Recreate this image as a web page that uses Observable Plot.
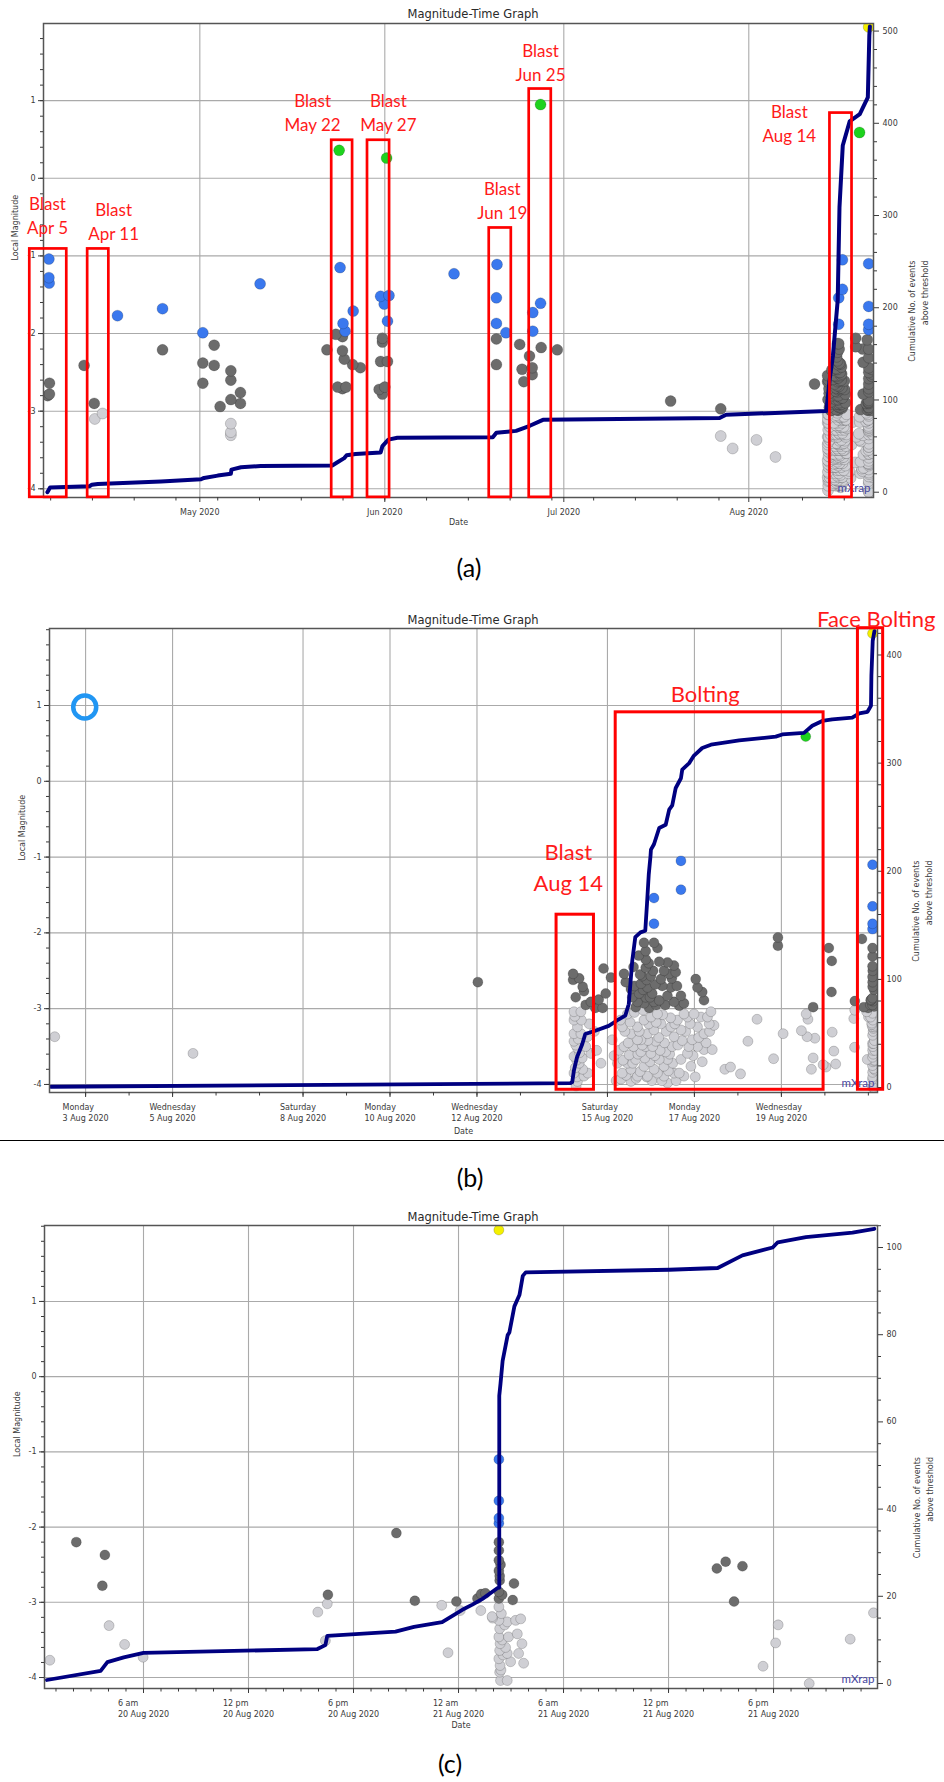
<!DOCTYPE html>
<html><head><meta charset="utf-8">
<script src="https://cdn.jsdelivr.net/npm/d3@7"></script>
<script src="https://cdn.jsdelivr.net/npm/@observablehq/plot@0.6"></script>
<style>
html,body{margin:0;padding:0;background:#fff;overflow:hidden}
#page{position:relative;width:944px;height:1782px;overflow:hidden;background:#fff}
#page svg{position:absolute;left:0}
.ttl{position:absolute;font:11.5px "DejaVu Sans";color:#2a2a2a;transform:translate(-50%,-50%);white-space:nowrap}
.cap{position:absolute;font:25px Lato;color:#000;transform:translate(-50%,-50%)}
.sep{position:absolute;left:0;width:944px;height:1.5px;background:#000}
</style></head>
<body><div id="page"></div>
<script>
// ---------- DATA ----------
// events: [month, day of month (fractional), local magnitude]
const eventsAprJul = [
  [4,5.7,-1.04],[4,5.7,-1.28],[4,5.75,-1.35],[4,5.8,-2.64],[4,5.8,-2.78],[4,5.5,-2.80],
  [4,11.6,-2.41],[4,13.3,-2.90],[4,13.4,-3.10],[4,14.7,-3.03],[4,17.2,-1.77],
  [4,24.75,-1.68],[4,24.75,-2.21],
  [5,1.5,-1.99],[5,1.5,-2.38],[5,1.5,-2.64],[5,3.4,-2.15],[5,3.4,-2.41],[5,4.4,-2.94],
  [5,6.2,-2.48],[5,6.2,-2.60],[5,6.2,-2.85],[5,7.8,-2.76],[5,7.8,-2.90],
  [5,6.2,-3.16],[5,6.2,-3.27],[5,6.2,-3.31],[5,11.1,-1.36],
  [5,22.3,-2.21],[5,23.8,-2.01],[5,24.1,-2.69],[5,24.35,0.36],[5,24.5,-1.15],[5,25.0,-1.87],
  [5,25.35,-1.97],[5,24.9,-2.04],[5,24.9,-2.22],[5,25.2,-2.33],[5,24.9,-2.71],[5,25.5,-2.69],
  [5,26.6,-2.40],[5,26.7,-1.71],[5,27.9,-2.44],
  [5,31.05,-2.72],[5,31.3,-1.52],[5,31.3,-2.36],[5,31.6,-2.06],[5,31.6,-2.11],[5,31.6,-2.78],[5,31.9,-1.62],
  [6,1.0,-2.69],[6,1.3,0.26],[6,1.45,-1.84],[6,1.45,-2.36],[6,1.7,-1.51],[6,12.6,-1.23],
  [6,19.7,-1.54],[6,19.7,-1.87],[6,19.7,-2.07],[6,19.7,-2.40],[6,19.8,-1.11],[6,21.3,-1.99],
  [6,23.6,-2.14],[6,24.0,-2.46],[6,24.3,-2.62],[6,25.25,-2.29],[6,25.7,-2.44],[6,25.7,-2.53],
  [6,25.8,-1.73],[6,25.8,-1.97],[6,27.1,0.95],[6,27.1,-1.61],[6,27.2,-2.18],[6,29.9,-2.21],
  [7,18.9,-2.87],[7,27.3,-2.97],[7,27.3,-3.32],[7,29.3,-3.48]
];
const eventsAug2to19 = [
  [8,2.29,-3.37],[8,5.47,-3.59],[8,12.02,-2.65],
  [8,14.21,-2.54],[8,14.21,-2.62],[8,14.43,-2.71],[8,14.46,-2.77],[8,14.27,-2.85],[8,14.62,-2.91],
  [8,14.72,-2.99],[8,14.89,-2.99],[8,14.91,-2.47],[8,15.08,-2.59],[8,14.96,-2.80],[8,15.38,-2.54],[8,15.42,-2.65],
  [8,14.35,-2.60],[8,14.50,-2.95],[8,14.80,-2.88],
  [8,15.84,-2.13],[8,16.07,-2.13],[8,15.88,-2.24],[8,15.88,-2.35],[8,15.88,-2.46],[8,15.80,-2.57],
  [8,16.00,-2.57],[8,15.77,-2.67],[8,15.92,-2.72],[8,15.73,-2.80],[8,15.88,-2.85],[8,16.03,-2.80],
  [8,15.69,-2.91],[8,15.84,-2.93],[8,16.07,-2.91],[8,15.65,-2.98],[8,15.96,-2.99],[8,16.38,-2.39],
  [8,16.53,-2.43],[8,16.57,-2.52],[8,16.42,-2.54],[8,16.23,-2.61],[8,16.26,-2.70],[8,16.46,-2.72],
  [8,16.38,-2.83],[8,16.69,-2.83],[8,16.53,-2.91],[8,16.76,-2.93],[8,16.19,-2.89],[8,15.54,-2.74],
  [8,15.57,-2.85],[8,17.03,-2.61],[8,17.07,-2.72],[8,17.18,-2.78],[8,17.22,-2.89],[8,16.19,-2.38],
  [8,15.60,-2.45],[8,15.62,-2.70],[8,15.72,-2.30],[8,15.75,-2.55],[8,15.82,-2.75],[8,15.90,-2.62],
  [8,15.95,-2.40],[8,15.98,-2.85],[8,16.05,-2.50],[8,16.10,-2.68],[8,16.12,-2.95],[8,16.15,-2.20],
  [8,16.30,-2.50],[8,16.33,-2.95],[8,16.48,-2.60],[8,16.60,-2.70],[8,16.65,-2.96],
  [8,16.07,-1.54],[8,16.07,-1.88],[8,16.69,-1.05],[8,16.69,-1.43],
  [8,14.23,-3.04],[8,14.39,-3.04],[8,14.23,-3.15],[8,14.31,-3.24],[8,14.23,-3.33],[8,14.39,-3.33],
  [8,14.23,-3.43],[8,14.31,-3.52],[8,14.23,-3.63],[8,14.35,-3.72],[8,14.43,-3.80],[8,14.23,-3.85],
  [8,14.54,-3.37],[8,14.58,-3.20],[8,14.62,-3.59],[8,14.85,-3.72],[8,14.31,-3.96],[8,14.46,-3.89],
  [8,14.25,-3.10],[8,14.27,-3.48],[8,14.29,-3.68],[8,14.26,-3.78],[8,14.30,-3.90],[8,14.33,-3.40],
  [8,14.36,-3.58],[8,14.28,-4.02],[8,14.40,-3.15],[8,14.42,-3.65],[8,14.50,-3.50],[8,14.55,-3.85],
  [8,14.70,-3.30],[8,14.75,-3.55],
  [8,15.11,-3.41],[8,15.34,-3.24],[8,15.46,-3.07],[8,15.54,-3.33],[8,15.38,-3.50],[8,15.50,-3.61],
  [8,15.46,-3.72],[8,15.54,-3.80],[8,15.34,-3.85],[8,15.65,-3.67],[8,15.77,-3.57],[8,15.88,-3.50],
  [8,15.77,-3.41],[8,15.92,-3.33],[8,15.69,-3.24],[8,15.84,-3.15],[8,16.00,-3.11],[8,16.15,-3.07],
  [8,16.23,-3.20],[8,16.07,-3.28],[8,16.11,-3.43],[8,16.00,-3.59],[8,15.84,-3.76],[8,15.69,-3.89],
  [8,15.54,-3.96],[8,16.07,-3.80],[8,16.30,-3.76],[8,16.38,-3.67],[8,16.34,-3.57],[8,16.49,-3.50],
  [8,16.53,-3.37],[8,16.69,-3.28],[8,16.46,-3.24],[8,16.61,-3.15],[8,16.84,-3.11],[8,16.76,-3.07],
  [8,16.99,-3.07],[8,17.15,-3.11],[8,17.30,-3.11],[8,17.38,-3.04],[8,17.07,-3.24],[8,17.22,-3.33],
  [8,17.34,-3.20],[8,16.95,-3.41],[8,17.07,-3.50],[8,16.84,-3.59],[8,16.69,-3.67],[8,16.92,-3.76],
  [8,17.22,-3.54],[8,17.41,-3.54],[8,16.53,-3.85],[8,16.30,-3.89],[8,16.76,-3.89],[8,16.38,-3.98],
  [8,15.23,-3.72],[8,15.69,-3.41],[8,15.31,-3.93],[8,15.92,-3.89],[8,16.19,-3.67],
  [8,15.15,-3.62],[8,15.20,-3.95],[8,15.27,-3.55],[8,15.30,-3.15],[8,15.36,-3.68],[8,15.40,-3.30],
  [8,15.43,-3.88],[8,15.48,-3.45],[8,15.52,-3.18],[8,15.58,-3.72],[8,15.60,-3.50],[8,15.62,-3.05],
  [8,15.66,-3.92],[8,15.70,-3.60],[8,15.73,-3.30],[8,15.75,-3.83],[8,15.80,-3.48],[8,15.82,-3.02],
  [8,15.86,-3.65],[8,15.90,-3.90],[8,15.93,-3.42],[8,15.95,-3.20],[8,15.98,-3.70],[8,16.02,-3.95],
  [8,16.04,-3.50],[8,16.09,-3.62],[8,16.12,-3.18],[8,16.15,-3.85],[8,16.18,-3.38],[8,16.21,-3.55],
  [8,16.25,-3.95],[8,16.27,-3.08],[8,16.31,-3.45],[8,16.35,-3.30],[8,16.40,-3.82],[8,16.43,-3.60],
  [8,16.45,-3.12],[8,16.50,-3.72],[8,16.55,-3.20],[8,16.58,-3.95],[8,16.62,-3.48],[8,16.65,-3.85],
  [8,16.72,-3.42],[8,16.80,-3.30],[8,16.87,-3.50],[8,16.90,-3.20],[8,16.97,-3.62],[8,17.02,-3.90],
  [8,17.10,-3.38],[8,17.18,-3.70],[8,17.27,-3.45],[8,17.35,-3.30],[8,17.45,-3.22],
  [8,17.70,-3.80],[8,17.83,-3.77],[8,18.06,-3.86],[8,18.23,-3.43],[8,18.44,-3.14],[8,18.82,-3.66],
  [8,19.04,-3.33],[8,19.46,-3.29],[8,19.57,-3.07],[8,19.59,-3.37],[8,19.61,-3.14],[8,19.69,-3.80],
  [8,19.73,-3.65],[8,19.77,-3.39],[8,19.96,-3.74],
  [8,18.92,-2.06],[8,18.92,-2.17],[8,19.73,-2.98],[8,19.56,0.59]
];
const eventsAug20to21 = [
  [8,20.027,-3.77],[8,20.090,-2.20],[8,20.158,-2.37],[8,20.152,-2.78],[8,20.168,-3.31],[8,20.205,-3.56],
  [8,20.249,-3.73],[8,20.665,-3.13],[8,20.6875,-3.02],[8,20.689,-2.90],[8,20.683,-3.51],
  [8,20.852,-2.08],[8,20.896,-2.98],[8,20.960,-3.04],[8,20.975,-3.67],[8,20.995,-2.99],[8,21.004,-3.11],
  [8,21.045,-2.95],[8,21.054,-2.89],[8,21.053,-3.11],[8,21.064,-2.88],[8,21.080,-3.19],[8,21.081,-3.21],
  [8,21.096,1.95],[8,21.096,-1.10],[8,21.096,-1.65],[8,21.096,-1.88],[8,21.096,-1.95],
  [8,21.096,-2.20],[8,21.096,-2.31],[8,21.096,-2.44],[8,21.096,-2.58],[8,21.098,-2.71],[8,21.096,-2.86],
  [8,21.096,-2.95],[8,21.132,-2.75],[8,21.129,-2.97],[8,21.100,-2.50],[8,21.098,-2.65],[8,21.104,-2.90],
  [8,21.096,-3.06],[8,21.096,-3.24],[8,21.098,-3.35],[8,21.096,-3.46],[8,21.099,-3.55],[8,21.098,-3.64],
  [8,21.096,-3.75],[8,21.099,-3.84],[8,21.098,-3.93],[8,21.100,-4.04],
  [8,21.102,-3.15],[8,21.104,-3.50],[8,21.106,-3.70],[8,21.101,-3.90],[8,21.110,-3.30],[8,21.112,-3.60],
  [8,21.116,-3.26],[8,21.136,-3.24],[8,21.148,-3.22],[8,21.140,-3.42],[8,21.151,-3.55],[8,21.119,-3.46],
  [8,21.116,-3.68],[8,21.143,-3.68],[8,21.124,-3.79],[8,21.155,-3.81],[8,21.116,-4.04],
  [8,21.615,-2.55],[8,21.636,-2.46],[8,21.676,-2.52],[8,21.656,-2.99],
  [8,21.725,-3.85],[8,21.755,-3.54],[8,21.761,-3.30],[8,21.835,-4.08],[8,21.9325,-3.49],[8,21.988,-3.14]
];
// cumulative number of events above threshold: [month, day, count]
const cumA = [[4,5.45,0],[4,5.9,5],[4,12.5,6.5],[4,12.9,8],[4,13.9,9],[4,24.5,11.5],[5,1.2,14],[5,1.7,15.5],
  [5,4.0,18],[5,6.2,20],[5,6.3,24.5],[5,7.9,27],[5,11.2,28.5],[5,23.2,29],[5,24.2,33],[5,25.2,37],[5,25.6,40],
  [5,27.1,41.5],[5,31.3,43],[5,31.6,50],[6,1.6,57],[6,3.1,59],[6,19.1,59.5],[6,19.7,64.5],[6,23,66.5],
  [6,25.3,72],[6,27.5,78.5],[7,27.1,80.5],[7,28.2,84],[8,14.0,88],[8,14.55,122],[8,15.1,148],[8,15.9,208],
  [8,16.2,309],[8,16.75,376],[8,17.9,402],[8,19.6,410],[8,20.95,428],[8,21.2,495],[8,21.3,505]];
const cumB = [[8,2.2,0.7],[8,14.15,4],[8,14.19,5],[8,14.23,16],[8,14.30,28],[8,14.42,40],[8,14.49,49.5],
  [8,14.72,52.5],[8,15.03,57],[8,15.22,62],[8,15.41,66.5],[8,15.49,77],[8,15.57,117],[8,15.64,139],
  [8,15.76,143.5],[8,15.87,145],[8,15.91,170],[8,15.95,197],[8,15.99,214],[8,16.0,220],[8,16.07,225],
  [8,16.19,240],[8,16.34,243],[8,16.42,257],[8,16.49,261],[8,16.57,277],[8,16.69,286],[8,16.72,294],
  [8,16.88,300],[8,16.99,307],[8,17.18,314],[8,17.38,317],[8,18.03,321],[8,18.87,324.5],[8,19.02,326.5],
  [8,19.52,328],[8,19.71,334.5],[8,19.94,339],[8,20.17,340.5],[8,20.63,342],[8,20.79,346],[8,20.98,347.5],
  [8,21.06,353],[8,21.07,381],[8,21.10,413],[8,21.14,422]];
const cumC = [[8,20.02,0.8],[8,20.148,2.9],[8,20.164,4.9],[8,20.203,6],[8,20.25,7],[8,20.664,7.9],
  [8,20.683,8.8],[8,20.6875,10.9],[8,20.783,11.5],[8,20.85,11.9],[8,20.894,13],[8,20.961,14.1],
  [8,21.009,16.9],[8,21.033,18.1],[8,21.057,19.4],[8,21.093,21.9],[8,21.097,22],[8,21.097,66],
  [8,21.1,68.8],[8,21.105,74],[8,21.117,79.9],[8,21.121,80.5],[8,21.133,86.5],[8,21.145,89.1],
  [8,21.146,89.6],[8,21.153,93.5],[8,21.16,94.3],[8,21.502,94.9],[8,21.617,95.3],[8,21.676,98.2],
  [8,21.748,100],[8,21.76,101.2],[8,21.827,102.4],[8,21.938,103.4],[8,21.99,104.3]];
// annotation boxes: [month1, day1, month2, day2, top magnitude]
const boxesA = [[4,2.5,4,8.7,-0.91],[4,12.2,4,15.75,-0.91],[5,23.1,5,26.6,0.49],[5,29.1,6,1.8,0.49],
  [6,18.5,6,22.2,-0.64],[6,25.2,6,28.9,1.15],[8,14.6,8,18.3,0.84]];
const labelsA = [["Blast\nApr 5",4,5.47,-0.47],["Blast\nApr 11",4,16.55,-0.54],["Blast\nMay 22",5,19.9,0.86],
  ["Blast\nMay 27",6,1.6,0.86],["Blast\nJun 19",6,20.7,-0.27],["Blast\nJun 25",6,27.1,1.51],["Blast\nAug 14",8,7.8,0.72]];
const boxesB = [[8,13.83,8,14.69,-1.76],[8,15.19,8,19.97,0.91],[8,20.76,8,21.34,2.02]];
const labelsB = [["Blast\nAug 14",8,14.10,-1.11],["Bolting",8,17.25,1.18],["Face Bolting",8,21.18,2.16]];
const ringB = [8,2.98,0.98];
// axes
const magTicks = [-4,-3,-2,-1,0,1];
const countTicksA = [0,100,200,300,400,500];
const countTicksB = [0,100,200,300,400];
const countTicksC = [0,20,40,60,80,100];
const tickDatesA = [[5,1],[6,1],[7,1],[8,1]];
const tickLabelsA = [["May 2020"],["Jun 2020"],["Jul 2020"],["Aug 2020"]];
const tickDatesB = [[8,3],[8,5],[8,8],[8,10],[8,12],[8,15],[8,17],[8,19]];
const tickLabelsB = [["Monday","3 Aug 2020"],["Wednesday","5 Aug 2020"],["Saturday","8 Aug 2020"],["Monday","10 Aug 2020"],
  ["Wednesday","12 Aug 2020"],["Saturday","15 Aug 2020"],["Monday","17 Aug 2020"],["Wednesday","19 Aug 2020"]];
const tickDatesC = [[8,20.25],[8,20.5],[8,20.75],[8,21],[8,21.25],[8,21.5],[8,21.75]];
const tickLabelsC = [["6 am","20 Aug 2020"],["12 pm","20 Aug 2020"],["6 pm","20 Aug 2020"],["12 am","21 Aug 2020"],
  ["6 am","21 Aug 2020"],["12 pm","21 Aug 2020"],["6 pm","21 Aug 2020"]];

// ---------- BUILD ----------
const DAY = 864e5;
const toDate = (m, d) => new Date(new Date(2020, m - 1, 1).getTime() + (d - 1) * DAY);
const allEvents = [...eventsAprJul, ...eventsAug2to19, ...eventsAug20to21]
  .map(([m, d, mag]) => ({date: toDate(m, d), mag}))
  .sort((a, b) => a.mag - b.mag);
const ctx = document.createElement("canvas").getContext("2d");
ctx.font = "8px 'DejaVu Sans'";
const RED = "#ff1a1a";

function panel(o) {
  const [y0, y1] = o.yDomain, [c0, c1] = o.countDomain;
  const toMag = c => y0 + (c - c0) / (c1 - c0) * (y1 - y0);
  const toCount = v => c0 + (v - y0) / (y1 - y0) * (c1 - c0);
  const xd = o.xDomain.map(([m, d]) => toDate(m, d));
  const events = allEvents.filter(e => e.date >= xd[0] && e.date <= xd[1]);
  const cum = o.cum.map(([m, d, c]) => ({date: toDate(m, d), v: toMag(c)}));
  const majors = o.tickDates.map(([m, d]) => toDate(m, d));
  const minorMag = d3.range(-40, 21, 2).map(v => v / 10).filter(v => v > y0 && v < y1);
  const countMinor = d3.range(0, c1 + 1, o.countMinorStep).filter(c => c > c0 && c < c1 && !o.countTicks.includes(c)).map(toMag);
  const xMinor = o.minorInterval.range(xd[0], xd[1]);
  const labelMarks = o.tickLabels.map((lines, i) => {
    const w = Math.max(...lines.map(s => ctx.measureText(s).width));
    return Plot.text([majors[i]], {x: d => d, text: () => lines.join("\n"), frameAnchor: "bottom",
      dy: o.tickLabelDy, dx: -w / 2, textAnchor: "start", lineAnchor: "middle", lineHeight: 1.375, fontSize: 8, fill: "#3a3a3a"});
  });
  const boxes = o.boxes.map(([m1, d1, m2, d2, top]) => ({x1: toDate(m1, d1), x2: toDate(m2, d2), top}));
  const labels = o.labels.map(([t, m, d, v]) => ({t, date: toDate(m, d), v}));
  const marks = [
    Plot.ruleY(magTicks, {stroke: "#aaaaaa", strokeWidth: 1.1}),
    Plot.ruleX(majors, {stroke: "#aaaaaa", strokeWidth: 1.1}),
    Plot.dot(events, {x: "date", y: "mag", r: o.r, fill: "mag", stroke: "#000", strokeOpacity: 0.22, strokeWidth: 0.8, clip: true}),
    Plot.line(cum, {x: "date", y: "v", stroke: "#000080", strokeWidth: o.lw, strokeLinejoin: "round", curve: "linear"}),
    Plot.text(["mXrap"], {text: d => d, frameAnchor: "bottom-right", dx: -3, dy: -9, textAnchor: "end", lineAnchor: "middle",
      fill: "#45459e", fontSize: 11.5, fontFamily: "Lato"}),
    Plot.frame({stroke: "#555", strokeWidth: 1.5}),
    Plot.axisY({anchor: "left", ticks: magTicks, tickSize: 5, tickPadding: 3, tickFormat: d => String(d), label: null}),
    Plot.axisY({anchor: "left", ticks: minorMag, tickSize: 3, tickFormat: () => "", label: null}),
    Plot.axisY({anchor: "right", ticks: o.countTicks.map(toMag), tickSize: 5, tickPadding: 4,
      tickFormat: v => String(Math.round(toCount(v))), label: null}),
    Plot.axisY({anchor: "right", ticks: countMinor, tickSize: 3, tickFormat: () => "", label: null}),
    Plot.axisX({ticks: majors, tickSize: 5, tickFormat: () => "", label: null}),
    Plot.axisX({ticks: xMinor, tickSize: 3.5, tickFormat: () => "", label: null}),
    ...labelMarks,
    Plot.text(["Local Magnitude"], {text: d => d, frameAnchor: "left", rotate: -90, dx: o.leftLabelDx, fontSize: 8, fill: "#3a3a3a"}),
    Plot.text(["Cumulative No. of events\nabove threshold"], {text: d => d, frameAnchor: "right", rotate: -90, dx: o.rightLabelDx,
      lineHeight: 1.65, fontSize: 8, fill: "#3a3a3a"}),
    Plot.text(["Date"], {text: d => d, frameAnchor: "bottom", dy: o.dateDy, fontSize: 8, fill: "#3a3a3a"}),
    Plot.rect(boxes, {x1: "x1", x2: "x2", y1: o.boxBottom, y2: "top", fill: "none", stroke: "#ff0000", strokeWidth: o.boxW}),
    Plot.text(labels, {x: "date", y: "v", text: "t", fill: RED, fontSize: o.redSize, fontFamily: "Lato", lineHeight: 1.4, lineAnchor: "middle"}),
    ...(o.extra ? o.extra(toDate) : [])
  ];
  const svg = Plot.plot({
    width: 944, height: o.height,
    marginLeft: o.ml, marginRight: 944 - o.xr, marginTop: o.mt, marginBottom: o.mb,
    x: {type: "time", domain: xd},
    y: {domain: o.yDomain},
    color: {type: "threshold", domain: [-3, -2, 0, 1.5], range: ["#cfcfd4", "#6c6c6c", "#3a78ee", "#1ed21e", "#f4f000"]},
    style: {fontFamily: "'DejaVu Sans'", fontSize: "8px", color: "#3a3a3a", background: "none", overflow: o.overflow},
    marks
  });
  svg.style.top = o.top + "px";
  return svg;
}

const page = document.getElementById("page");
page.appendChild(panel({
  top: 0, height: 530, ml: 43, xr: 873, mt: 23, mb: 33, overflow: "visible",
  xDomain: [[4, 4.8], [8, 21.9]], yDomain: [-4.112, 1.994], countDomain: [-5.74, 508.2],
  countTicks: countTicksA, countMinorStep: 20, cum: cumA, r: 5.5, lw: 4,
  tickDates: tickDatesA, tickLabels: tickLabelsA, tickLabelDy: 14, minorInterval: d3.timeMonday,
  leftLabelDx: -28, rightLabelDx: 44, dateDy: 27,
  boxes: boxesA, labels: labelsA, boxBottom: -4.11, boxW: 2.7, redSize: 17
}));
page.appendChild(panel({
  top: 600, height: 540, ml: 49, xr: 877, mt: 28, mb: 48, overflow: "visible",
  xDomain: [[8, 2.17], [8, 21.21]], yDomain: [-4.106, 2.016], countDomain: [-4.6, 424.5],
  countTicks: countTicksB, countMinorStep: 20, cum: cumB, r: 5, lw: 3.8,
  tickDates: tickDatesB, tickLabels: tickLabelsB, tickLabelDy: 19.5, minorInterval: d3.timeDay,
  leftLabelDx: -27, rightLabelDx: 44, dateDy: 41,
  boxes: boxesB, labels: labelsB, boxBottom: -4.07, boxW: 3, redSize: 22,
  extra: td => [Plot.dot([ringB], {x: d => td(d[0], d[1]), y: d => d[2], r: 11.5, fill: "none", stroke: "#2196f3", strokeWidth: 4.5})]
}));
page.appendChild(panel({
  top: 1200, height: 529, ml: 44, xr: 877, mt: 25, mb: 41, overflow: "hidden",
  xDomain: [[8, 20.0143], [8, 21.9975]], yDomain: [-4.146, 2.01], countDomain: [-1.15, 105.05],
  countTicks: countTicksC, countMinorStep: 5, cum: cumC, r: 5, lw: 3.8,
  tickDates: tickDatesC, tickLabels: tickLabelsC, tickLabelDy: 19.5, minorInterval: d3.timeHour,
  leftLabelDx: -27, rightLabelDx: 45, dateDy: 39,
  boxes: [], labels: [], boxBottom: -4.1, boxW: 3, redSize: 22
}));

function addDiv(cls, text, x, y) {
  const d = document.createElement("div");
  d.className = cls; d.textContent = text;
  d.style.left = x + "px"; d.style.top = y + "px";
  page.appendChild(d);
}
addDiv("ttl", "Magnitude-Time Graph", 473, 14);
addDiv("ttl", "Magnitude-Time Graph", 473, 620);
addDiv("ttl", "Magnitude-Time Graph", 473, 1217);
addDiv("cap", "(a)", 469, 567);
addDiv("cap", "(b)", 470, 1177);
addDiv("cap", "(c)", 450, 1763);
const sep = document.createElement("div");
sep.className = "sep"; sep.style.top = "1139.5px";
page.appendChild(sep);
</script>
</body></html>
